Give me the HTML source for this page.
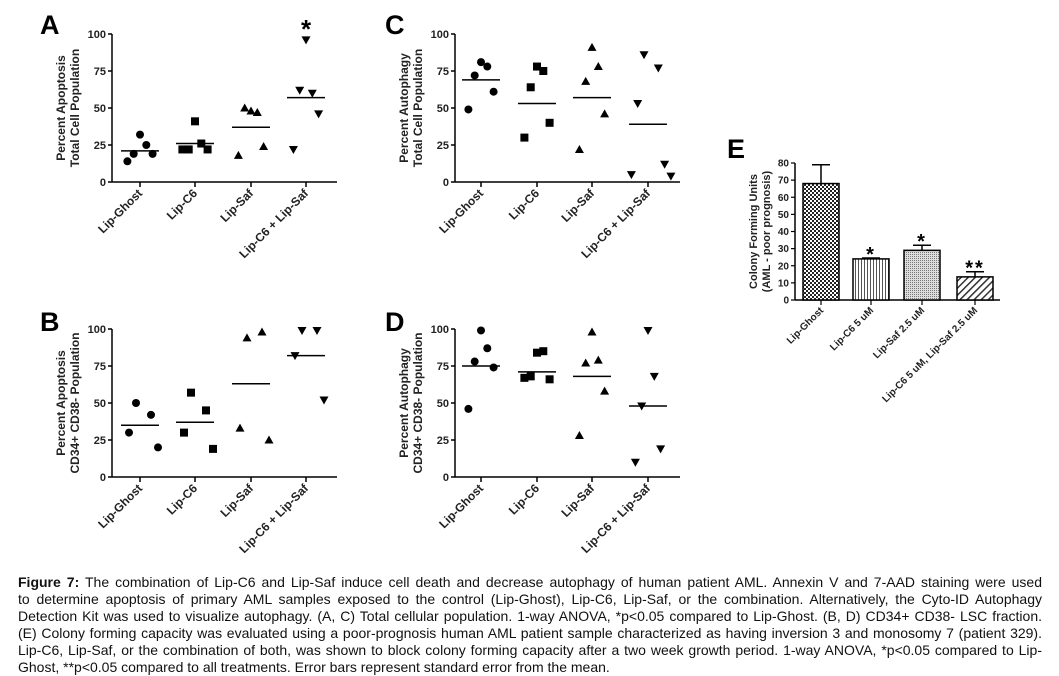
<!DOCTYPE html>
<html><head><meta charset="utf-8"><style>
body{margin:0;background:#fff;width:1059px;height:675px;overflow:hidden;position:relative;font-family:"Liberation Sans",Arial,sans-serif}
svg{position:absolute;left:0;top:0}
.cap{position:absolute;left:18px;width:1024px;font-size:14px;line-height:17px;top:574px;color:#111}
.cap div{text-align:justify;text-align-last:justify;white-space:nowrap;height:17px}
.cap div.last{text-align-last:left}
</style></head><body>
<svg id="fig" width="1059" height="575">
<defs>
<pattern id="pCheck" width="4" height="4" patternUnits="userSpaceOnUse"><rect width="4" height="4" fill="#fff"/><rect width="2" height="2" fill="#222"/><rect x="2" y="2" width="2" height="2" fill="#222"/></pattern>
<pattern id="pVert" width="3" height="3" patternUnits="userSpaceOnUse"><rect width="3" height="3" fill="#fff"/><rect width="1" height="3" fill="#555"/></pattern>
<pattern id="pDot" width="2" height="2" patternUnits="userSpaceOnUse"><rect width="2" height="2" fill="#ddd"/><rect width="1" height="1" fill="#777"/></pattern>
<pattern id="pDiag" width="5" height="5" patternUnits="userSpaceOnUse" patternTransform="rotate(45)"><rect width="5" height="5" fill="#fff"/><rect width="1.5" height="5" fill="#333"/></pattern>
</defs>
</svg>
<div class="cap">
<div><b>Figure 7:</b> The combination of Lip-C6 and Lip-Saf induce cell death and decrease autophagy of human patient AML. Annexin V and 7-AAD staining were used</div>
<div>to determine apoptosis of primary AML samples exposed to the control (Lip-Ghost), Lip-C6, Lip-Saf, or the combination. Alternatively, the Cyto-ID Autophagy</div>
<div>Detection Kit was used to visualize autophagy. (A, C) Total cellular population. 1-way ANOVA, *p&lt;0.05 compared to Lip-Ghost. (B, D) CD34+ CD38- LSC fraction.</div>
<div>(E) Colony forming capacity was evaluated using a poor-prognosis human AML patient sample characterized as having inversion 3 and monosomy 7 (patient 329).</div>
<div>Lip-C6, Lip-Saf, or the combination of both, was shown to block colony forming capacity after a two week growth period. 1-way ANOVA, *p&lt;0.05 compared to Lip-</div>
<div class="last">Ghost, **p&lt;0.05 compared to all treatments. Error bars represent standard error from the mean.</div>
</div>
<script>
const categories=["Lip-Ghost","Lip-C6","Lip-Saf","Lip-C6 + Lip-Saf"];
const yTicks=[0,25,50,75,100];
const aValues=[[32,25,19,19,14],[41,26,22,22,22],[48,47,50,24,18],[96,60,62,46,22]];
const aMeans=[21,26,37,57];
const bValues=[[50,42,30,20],[57,45,30,19],[94,98,33,25],[99,99,82,52]];
const bMeans=[35,37,63,82];
const cValues=[[81,78,72,61,49],[78,75,64,40,30],[91,78,68,46,22],[86,77,53,12,5,4]];
const cMeans=[69,53,57,39];
const dValues=[[99,87,78,74,46],[84,85,68,66,67],[98,79,77,58,28],[99,68,48,19,10]];
const dMeans=[75,71,68,48];
const eCategories=["Lip-Ghost","Lip-C6 5 uM","Lip-Saf 2.5 uM","Lip-C6 5 uM, Lip-Saf 2.5 uM"];
const eValues=[68,24,29,13.5];
const eErrors=[11,0.5,3,3];
const eTicks=[0,10,20,30,40,50,60,70,80];
const eStars=["","*","*","**"];

const svg=document.getElementById('fig');
const NS="http://www.w3.org/2000/svg";
function mk(tag,attrs,parent){const e=document.createElementNS(NS,tag);for(const k in attrs)e.setAttribute(k,attrs[k]);(parent||svg).appendChild(e);return e;}

function scatter(cfg){
  const g=mk('g',{});
  
  
  const y=v=>cfg.y0-(v/100)*(cfg.y0-cfg.y100);
  const x=i=>cfg.xs[i];
  let t=mk('text',{x:cfg.letterX,y:cfg.letterY,'font-size':27,'font-weight':'bold'},g);t.textContent=cfg.letter;
  
  const ax=mk('g',{stroke:'#000','stroke-width':1.5},g);
  
  mk('line',{x1:cfg.ax,y1:y(100),x2:cfg.ax,y2:y(0)},ax);
  mk('line',{x1:cfg.ax,y1:y(0),x2:cfg.ax+225,y2:y(0)},ax);
  yTicks.forEach(v=>{
    mk('line',{x1:cfg.ax-4,y1:y(v),x2:cfg.ax,y2:y(v)},ax);
    const tt=mk('text',{x:cfg.ax-6,y:y(v)+4,'font-size':11,'font-weight':'bold','text-anchor':'end',fill:'#222'},g);tt.textContent=v;
    
  });
  const yl=mk('text',{transform:`translate(${cfg.ax-40},${(y(0)+y(100))/2}) rotate(-90)`,'font-size':12,'font-weight':'bold','text-anchor':'middle',fill:'#222'},g);
  
  const s1=mk('tspan',{x:0,dy:-7},yl);s1.textContent=cfg.yl1;
  const s2=mk('tspan',{x:0,dy:14},yl);s2.textContent=cfg.yl2;
  categories.forEach((c,i)=>{
    mk('line',{x1:x(i),y1:y(0),x2:x(i),y2:y(0)+5,stroke:'#000','stroke-width':1.5},g);
    const lt=mk('text',{transform:`translate(${x(i)+3},${y(0)+12}) rotate(-45)`,'font-size':12,'font-weight':'bold','text-anchor':'end',fill:'#222'},g);lt.textContent=c;
    
    const vals=cfg.vals[i];const n=vals.length;
    vals.forEach((v,j)=>{
      const off=(j%2===0?-1:1)*Math.ceil(j/2)*7*(n>4?0.9:1);
      const px=x(i)+((j===0&&n%2===1)?0:off)+(n%2===0?(j%2===0?-4:4):0);
      const py=y(v);let m;
      if(i===0)m=mk('circle',{cx:px,cy:py,r:4},g);
      else if(i===1)m=mk('rect',{x:px-4,y:py-4,width:8,height:8},g);
      else if(i===2)m=mk('polygon',{points:`${px},${py-4.5} ${px+4.5},${py+3.5} ${px-4.5},${py+3.5}`},g);
      else m=mk('polygon',{points:`${px-4.5},${py-3.5} ${px+4.5},${py-3.5} ${px},${py+4.5}`},g);
      
    });
    const ml=mk('line',{x1:x(i)-19,x2:x(i)+19,y1:y(cfg.means[i]),y2:y(cfg.means[i]),stroke:'#000','stroke-width':1.5},g);
    
  });
  if(cfg.star){const st=mk('text',{x:x(3),y:cfg.y100+4,'font-size':26,'font-weight':'bold','text-anchor':'middle'},g);st.textContent='*';
    }
}
scatter({letter:'A',letterX:40,letterY:34,ax:112,y0:182,y100:34,xs:[140,195,251,306],vals:aValues,means:aMeans,yl1:'Percent Apoptosis',yl2:'Total Cell Population',star:true});
scatter({letter:'B',letterX:40,letterY:331,ax:112,y0:477,y100:329,xs:[140,195,251,306],vals:bValues,means:bMeans,yl1:'Percent Apoptosis',yl2:'CD34+ CD38- Population'});
scatter({letter:'C',letterX:385,letterY:34,ax:455,y0:182,y100:34,xs:[481,537,592,648],vals:cValues,means:cMeans,yl1:'Percent Autophagy',yl2:'Total Cell Population'});
scatter({letter:'D',letterX:385,letterY:331,ax:455,y0:477,y100:329,xs:[481,537,592,648],vals:dValues,means:dMeans,yl1:'Percent Autophagy',yl2:'CD34+ CD38- Population'});

(function(){
  const g=mk('g',{});
  
  const ax=795,y0=300,y80=163;
  const y=v=>y0-(v/80)*(y0-y80);
  const xs=[821,871,922,975];const w=36;
  const t=mk('text',{x:727,y:158,'font-size':27,'font-weight':'bold'},g);t.textContent='E';
  
  mk('line',{x1:ax,y1:y(80),x2:ax,y2:y0,stroke:'#000','stroke-width':1.5},g);
  mk('line',{x1:ax,y1:y0,x2:1000,y2:y0,stroke:'#000','stroke-width':1.5},g);
  eTicks.forEach(v=>{
    mk('line',{x1:ax-4,y1:y(v),x2:ax,y2:y(v),stroke:'#000','stroke-width':1.2},g);
    const tt=mk('text',{x:ax-6,y:y(v)+3.5,'font-size':10,'font-weight':'bold','text-anchor':'end',fill:'#222'},g);tt.textContent=v;
    
  });
  const yl=mk('text',{transform:`translate(763,${(y0+y80)/2}) rotate(-90)`,'font-size':11,'font-weight':'bold','text-anchor':'middle',fill:'#222'},g);
  
  const s1=mk('tspan',{x:0,dy:-6},yl);s1.textContent='Colony Forming Units';
  const s2=mk('tspan',{x:0,dy:13},yl);s2.textContent='(AML - poor prognosis)';
  const fills=['url(#pCheck)','url(#pVert)','url(#pDot)','url(#pDiag)'];
  eCategories.forEach((c,i)=>{
    const cx=xs[i];
    mk('line',{x1:cx,x2:cx,y1:y(eValues[i]+eErrors[i]),y2:y(eValues[i]),stroke:'#000','stroke-width':1.5},g);
    mk('line',{x1:cx-9,x2:cx+9,y1:y(eValues[i]+eErrors[i]),y2:y(eValues[i]+eErrors[i]),stroke:'#000','stroke-width':1.5},g);
    const b=mk('rect',{x:cx-w/2,y:y(eValues[i]),width:w,height:y0-y(eValues[i]),fill:fills[i],stroke:'#000','stroke-width':1.5},g);
    
    mk('line',{x1:cx,x2:cx,y1:y0,y2:y0+5,stroke:'#000','stroke-width':1.2},g);
    const lt=mk('text',{transform:`translate(${cx+3},${y0+11}) rotate(-45)`,'font-size':10,'font-weight':'bold','text-anchor':'end',fill:'#222'},g);lt.textContent=c;
    
    if(eStars[i]){const st=mk('text',{x:cx,y:y(eValues[i]+eErrors[i])+3,'font-size':20,'font-weight':'bold','text-anchor':'middle','letter-spacing':'2'},g);st.textContent=eStars[i];
      }
  });
})();
</script>
</body></html>
